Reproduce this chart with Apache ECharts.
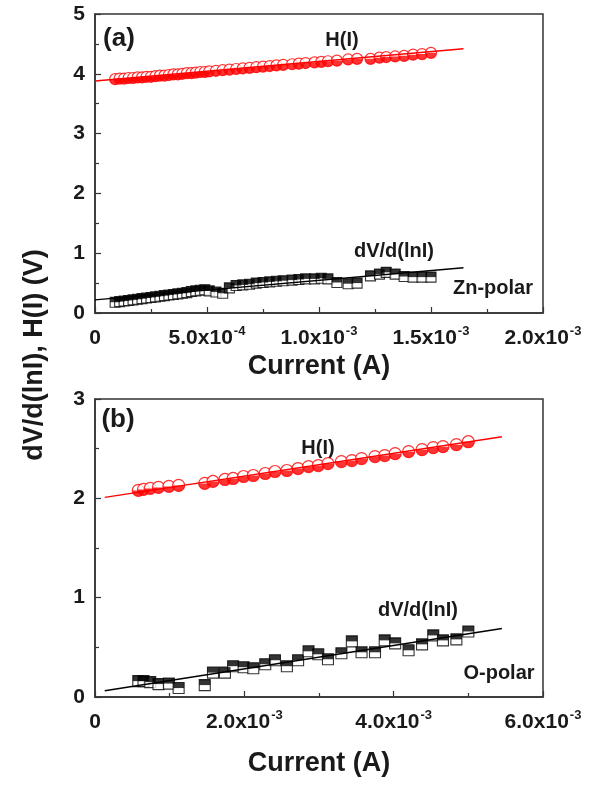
<!DOCTYPE html>
<html>
<head>
<meta charset="utf-8">
<script src="https://cdn.jsdelivr.net/npm/echarts@6/dist/echarts.min.js"></script>
<style>
  html, body { margin: 0; padding: 0; background: #fff; }
  #chart { width: 601px; height: 785px; }
</style>
</head>
<body>
<div id="chart"></div>
<script>
// ---- panel (a): Zn-polar ----
const currentZn = [
  0.09e-3, 0.11e-3, 0.13e-3, 0.15e-3, 0.17e-3, 0.19e-3, 0.21e-3, 0.23e-3, 0.25e-3, 0.27e-3,
  0.29e-3, 0.31e-3, 0.33e-3, 0.35e-3, 0.37e-3, 0.39e-3, 0.41e-3, 0.43e-3, 0.45e-3, 0.47e-3,
  0.49e-3, 0.51e-3, 0.54e-3, 0.57e-3, 0.60e-3, 0.63e-3, 0.66e-3, 0.69e-3, 0.72e-3, 0.75e-3,
  0.78e-3, 0.81e-3, 0.84e-3, 0.88e-3, 0.91e-3, 0.94e-3, 0.98e-3, 1.01e-3, 1.04e-3, 1.08e-3,
  1.13e-3, 1.17e-3, 1.23e-3, 1.27e-3, 1.30e-3, 1.34e-3, 1.38e-3, 1.42e-3, 1.46e-3, 1.50e-3
];
const hZn = [
  3.91, 3.92, 3.92, 3.93, 3.93, 3.94, 3.94, 3.95, 3.95, 3.96,
  3.97, 3.97, 3.98, 3.99, 3.99, 4.00, 4.01, 4.01, 4.02, 4.03,
  4.03, 4.04, 4.05, 4.06, 4.07, 4.08, 4.09, 4.10, 4.11, 4.12,
  4.13, 4.14, 4.15, 4.16, 4.17, 4.18, 4.19, 4.20, 4.21, 4.22,
  4.24, 4.25, 4.25, 4.27, 4.28, 4.29, 4.30, 4.32, 4.33, 4.35
];
const dvZn = [
  0.18, 0.19, 0.20, 0.21, 0.22, 0.23, 0.24, 0.25, 0.26, 0.27,
  0.28, 0.29, 0.30, 0.31, 0.32, 0.33, 0.34, 0.36, 0.37, 0.38,
  0.39, 0.37, 0.35, 0.33, 0.42, 0.46, 0.47, 0.48, 0.50, 0.51,
  0.52, 0.53, 0.54, 0.55, 0.56, 0.57, 0.57, 0.58, 0.57, 0.51,
  0.49, 0.50, 0.62, 0.65, 0.68, 0.65, 0.61, 0.60, 0.60, 0.60
];
const fitZnX = [0, 1.645e-3];
const fitZnH = [3.88, 4.42];
const fitZnDv = [0.22, 0.757];

// ---- panel (b): O-polar ----
const currentO = [
  0.58e-3, 0.65e-3, 0.74e-3, 0.85e-3, 0.99e-3, 1.12e-3, 1.47e-3, 1.58e-3, 1.74e-3, 1.85e-3,
  1.99e-3, 2.12e-3, 2.28e-3, 2.41e-3, 2.57e-3, 2.72e-3, 2.86e-3, 2.99e-3, 3.12e-3, 3.30e-3,
  3.44e-3, 3.57e-3, 3.75e-3, 3.88e-3, 4.02e-3, 4.20e-3, 4.38e-3, 4.53e-3, 4.66e-3, 4.84e-3,
  5.00e-3
];
const hO = [
  2.08, 2.09, 2.10, 2.11, 2.12, 2.13, 2.15, 2.17, 2.19, 2.20,
  2.22, 2.23, 2.25, 2.27, 2.28, 2.30, 2.32, 2.33, 2.35, 2.37,
  2.38, 2.40, 2.42, 2.43, 2.45, 2.47, 2.49, 2.51, 2.52, 2.54,
  2.57
];
const dvO = [
  0.16, 0.16, 0.15, 0.13, 0.135, 0.09, 0.12, 0.245, 0.245, 0.31,
  0.30, 0.29, 0.33, 0.37, 0.31, 0.37, 0.46, 0.43, 0.38, 0.44,
  0.56, 0.45, 0.45, 0.57, 0.54, 0.47, 0.53, 0.62, 0.57, 0.58,
  0.66
];
const fitOX = [0.13e-3, 5.45e-3];
const fitOH = [2.01, 2.62];
const fitODv = [0.063, 0.69];

const FONT = '"Liberation Sans", Arial, sans-serif';
const INK = '#1a1a1a';
const RED = '#ff0000';

const zip = (xs, ys) => xs.map((x, i) => [x, ys[i]]);

// "5.0x10^-4" style tick labels
function sciLabel(v) {
  if (v === 0) return '{m|0}';
  const e = Math.floor(Math.log10(v) + 1e-9);
  const m = (v / Math.pow(10, e)).toFixed(1);
  return '{m|' + m + 'x10}{s|' + e + '}';
}

function xAxis(gridIndex, max, interval) {
  return {
    type: 'value', gridIndex, min: 0, max, interval,
    axisLine: { lineStyle: { color: '#333', width: 1.5 } },
    axisTick: { inside: true, length: 6, lineStyle: { color: '#333', width: 1.2 } },
    minorTick: { show: true, splitNumber: 2, length: 4, lineStyle: { color: '#333', width: 1.2 } },
    splitLine: { show: false },
    axisLabel: {
      margin: 12, showMaxLabel: true, showMinLabel: true,
      formatter: sciLabel,
      rich: {
        m: { fontFamily: FONT, fontWeight: 'bold', fontSize: 21, color: INK, lineHeight: 24, verticalAlign: 'bottom' },
        s: { fontFamily: FONT, fontWeight: 'bold', fontSize: 13, color: INK, lineHeight: 24, verticalAlign: 'top', padding: [0, 0, 0, 1] }
      }
    }
  };
}

function yAxis(gridIndex, max) {
  return {
    type: 'value', gridIndex, min: 0, max, interval: 1,
    axisLine: { lineStyle: { color: '#333', width: 1.5 } },
    axisTick: { inside: true, length: 6, lineStyle: { color: '#333', width: 1.2 } },
    minorTick: { show: true, splitNumber: 2, length: 4, lineStyle: { color: '#333', width: 1.2 } },
    splitLine: { show: false },
    axisLabel: { margin: 10, fontFamily: FONT, fontWeight: 'bold', fontSize: 21, color: INK }
  };
}

// open symbol + half-filled overlay = Origin "half" symbol
function halfCircles(idx, xs, ys, size) {
  return [
    {
      type: 'scatter', xAxisIndex: idx, yAxisIndex: idx, data: zip(xs, ys),
      symbol: 'circle', symbolSize: size,
      itemStyle: { color: '#fff', borderColor: RED, borderWidth: 1.2 }
    },
    {
      type: 'scatter', xAxisIndex: idx, yAxisIndex: idx, data: zip(xs, ys),
      symbol: 'path://M0,0 A5,5 0 0 0 10,0 Z', symbolSize: [size, size / 2], symbolOffset: [0, size / 4],
      itemStyle: { color: RED }
    }
  ];
}

function halfSquares(idx, xs, ys, size) {
  return [
    {
      type: 'scatter', xAxisIndex: idx, yAxisIndex: idx, data: zip(xs, ys),
      symbol: 'rect', symbolSize: size,
      itemStyle: { color: '#fff', borderColor: '#000', borderWidth: 1.1 }
    },
    {
      type: 'scatter', xAxisIndex: idx, yAxisIndex: idx, data: zip(xs, ys),
      symbol: 'rect', symbolSize: [size, size / 2], symbolOffset: [0, -size / 4],
      itemStyle: { color: '#000' }
    }
  ];
}

function fitLine(idx, xs, ys, color) {
  return {
    type: 'line', xAxisIndex: idx, yAxisIndex: idx, data: zip(xs, ys),
    showSymbol: false, symbol: 'none', silent: true, z: 3,
    lineStyle: { color, width: 1.4 }
  };
}

function label(text, x, y, size) {
  return {
    type: 'text', x, y,
    style: { text, fontFamily: FONT, fontWeight: 'bold', fontSize: size, fill: INK, align: 'center', verticalAlign: 'middle' }
  };
}

const chart = echarts.init(document.getElementById('chart'));

chart.setOption({
  backgroundColor: '#fff',
  animation: false,
  grid: [
    { left: 95, width: 448, top: 14, height: 299, show: true, borderColor: '#333', borderWidth: 1.5, backgroundColor: 'transparent' },
    { left: 95, width: 448, top: 399, height: 298, show: true, borderColor: '#333', borderWidth: 1.5, backgroundColor: 'transparent' }
  ],
  xAxis: [xAxis(0, 2e-3, 5e-4), xAxis(1, 6e-3, 2e-3)],
  yAxis: [yAxis(0, 5), yAxis(1, 3)],
  series: [
    ...halfSquares(0, currentZn, dvZn, 10),
    ...halfCircles(0, currentZn, hZn, 11),
    fitLine(0, fitZnX, fitZnH, RED),
    fitLine(0, fitZnX, fitZnDv, '#000'),
    ...halfSquares(1, currentO, dvO, 11),
    ...halfCircles(1, currentO, hO, 12),
    fitLine(1, fitOX, fitOH, RED),
    fitLine(1, fitOX, fitODv, '#000')
  ],
  graphic: [
    label('(a)', 119, 39, 26),
    label('H(I)', 342, 40, 20),
    label('dV/d(lnI)', 394, 251, 20),
    label('Zn-polar', 493, 288, 20),
    label('Current (A)', 319, 367, 27),
    label('(b)', 118, 420, 26),
    label('H(I)', 318, 448, 20),
    label('dV/d(lnI)', 418, 610, 20),
    label('O-polar', 499, 673, 20),
    label('Current (A)', 319, 764, 27),
    {
      type: 'text', x: 35, y: 355, rotation: Math.PI / 2,
      style: { text: 'dV/d(lnI), H(I) (V)', fontFamily: FONT, fontWeight: 'bold', fontSize: 27, fill: INK, align: 'center', verticalAlign: 'middle' }
    }
  ]
});
</script>
</body>
</html>
